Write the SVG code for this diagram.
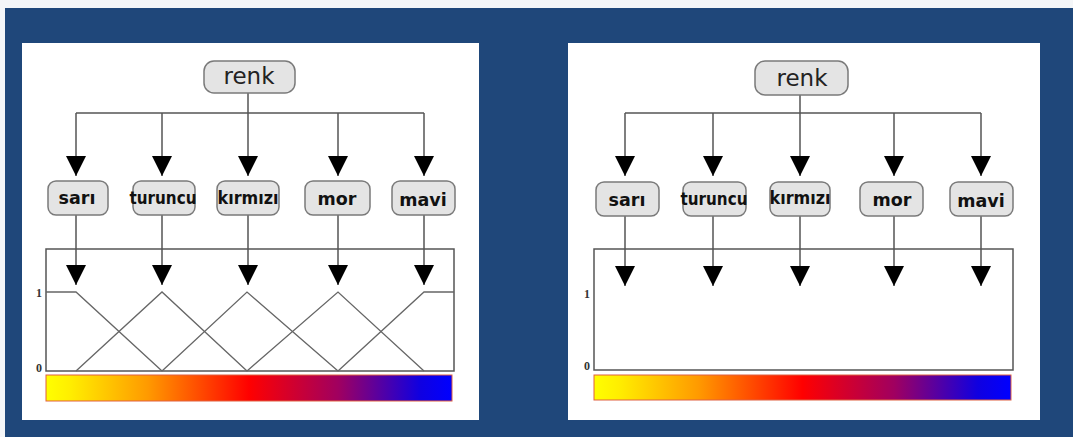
<svg xmlns="http://www.w3.org/2000/svg" width="1073" height="437" viewBox="0 0 1073 437">
  <style>
    .panel { fill: #ffffff; }
    .node rect { fill: #e4e4e4; stroke: #7a7a7a; stroke-width: 1.5; }
    .root text { font-family: "DejaVu Sans", Verdana, sans-serif; font-size: 23px; fill: #222; text-anchor: middle; }
    .leaf text { font-family: "DejaVu Sans", Verdana, sans-serif; font-size: 17.5px; font-weight: bold; fill: #111; text-anchor: middle; }
    .conn line, .conn polyline { stroke: #555; stroke-width: 1.5; fill: none; }
    .arrow line { marker-end: url(#tri); }
    .frame { fill: none; stroke: #555; stroke-width: 1.5; }
    .mf { fill: none; stroke: #666; stroke-width: 1.3; }
    .axis { font-family: "Liberation Serif", "Times New Roman", serif; font-size: 12px; font-weight: bold; fill: #333; }
    .bar { fill: url(#spectrum); stroke: #e06040; stroke-width: 1; }
  </style>
  <defs>
    <marker id="tri" viewBox="0 0 20 20" refX="20" refY="10" markerWidth="20" markerHeight="20" markerUnits="userSpaceOnUse" orient="auto">
      <path d="M0,0 L20,10 L0,20 z" fill="#000"/>
    </marker>
    <linearGradient id="spectrum" x1="0" y1="0" x2="1" y2="0">
      <stop offset="0" stop-color="#ffff00"/>
      <stop offset="0.06" stop-color="#ffee00"/>
      <stop offset="0.25" stop-color="#ff9a00"/>
      <stop offset="0.5" stop-color="#ff0000"/>
      <stop offset="0.72" stop-color="#a00060"/>
      <stop offset="0.92" stop-color="#1000e0"/>
      <stop offset="1" stop-color="#0000ff"/>
    </linearGradient>
  </defs>

  <!-- backdrop -->
  <rect x="0" y="0" width="1073" height="437" fill="#f4f6f8"/>
  <rect x="5" y="8" width="1068" height="429" fill="#1f477a"/>

  <!-- left panel: hierarchy with membership functions -->
  <g id="panel-left">
    <rect class="panel" x="22" y="43" width="457" height="377"/>
    <rect class="frame" x="46" y="249" width="408" height="122"/>
    <g class="mf">
      <polyline points="46,292 76,292 162,371"/>
      <polyline points="76,371 162,292 247,371"/>
      <polyline points="162,371 247,292 338,371"/>
      <polyline points="247,371 338,292 424,371"/>
      <polyline points="338,371 424,292 454,292"/>
    </g>
    <text class="axis" x="36" y="297">1</text>
    <text class="axis" x="36" y="372">0</text>
    <rect class="bar" x="46" y="375" width="406" height="26"/>
  </g>

  <!-- right panel: hierarchy with empty axes -->
  <g id="panel-right">
    <rect class="panel" x="568" y="43" width="472" height="377"/>
    <rect class="frame" x="594" y="249" width="419" height="121"/>
    <text class="axis" x="584" y="298">1</text>
    <text class="axis" x="584" y="370">0</text>
    <rect class="bar" x="594" y="375" width="417" height="25"/>
  </g>

  <!-- connectors -->
  <g id="connectors" class="conn">
    <line x1="248" y1="93" x2="248" y2="113"/>
    <line x1="76" y1="113" x2="424" y2="113"/>
    <g class="arrow">
      <line x1="76" y1="113" x2="76" y2="176"/>
      <line x1="162" y1="113" x2="162" y2="176"/>
      <line x1="248" y1="113" x2="248" y2="176"/>
      <line x1="338" y1="113" x2="338" y2="176"/>
      <line x1="424" y1="113" x2="424" y2="176"/>
      <line x1="76" y1="215" x2="76" y2="285"/>
      <line x1="162" y1="215" x2="162" y2="285"/>
      <line x1="248" y1="215" x2="248" y2="285"/>
      <line x1="338" y1="215" x2="338" y2="285"/>
      <line x1="424" y1="215" x2="424" y2="285"/>
    </g>
    <line x1="800" y1="95" x2="800" y2="113"/>
    <line x1="625" y1="113" x2="981" y2="113"/>
    <g class="arrow">
      <line x1="625" y1="113" x2="625" y2="176"/>
      <line x1="713" y1="113" x2="713" y2="176"/>
      <line x1="800" y1="113" x2="800" y2="176"/>
      <line x1="894" y1="113" x2="894" y2="176"/>
      <line x1="981" y1="113" x2="981" y2="176"/>
      <line x1="625" y1="216" x2="625" y2="286"/>
      <line x1="713" y1="216" x2="713" y2="286"/>
      <line x1="800" y1="216" x2="800" y2="286"/>
      <line x1="894" y1="216" x2="894" y2="286"/>
      <line x1="981" y1="216" x2="981" y2="286"/>
    </g>
  </g>

  <!-- left tree nodes -->
  <g id="renk-left" class="node root">
    <rect x="204" y="61" width="91" height="32" rx="10"/>
    <text x="249" y="84">renk</text>
  </g>
  <g id="sari-left" class="node leaf">
    <rect x="48" y="181" width="60" height="34" rx="8"/>
    <text x="77" y="204">sarı</text>
  </g>
  <g id="turuncu-left" class="node leaf">
    <rect x="133" y="181" width="62" height="34" rx="8"/>
    <text x="163" y="204" textLength="67" lengthAdjust="spacingAndGlyphs">turuncu</text>
  </g>
  <g id="kirmizi-left" class="node leaf">
    <rect x="217" y="181" width="62" height="34" rx="8"/>
    <text x="248" y="204" textLength="61" lengthAdjust="spacingAndGlyphs">kırmızı</text>
  </g>
  <g id="mor-left" class="node leaf">
    <rect x="305" y="181" width="65" height="34" rx="8"/>
    <text x="337" y="205">mor</text>
  </g>
  <g id="mavi-left" class="node leaf">
    <rect x="392" y="181" width="63" height="34" rx="8"/>
    <text x="423" y="206">mavi</text>
  </g>

  <!-- right tree nodes -->
  <g id="renk-right" class="node root">
    <rect x="755" y="61" width="93" height="34" rx="10"/>
    <text x="802" y="86">renk</text>
  </g>
  <g id="sari-right" class="node leaf">
    <rect x="596" y="182" width="63" height="34" rx="8"/>
    <text x="627" y="206">sarı</text>
  </g>
  <g id="turuncu-right" class="node leaf">
    <rect x="683" y="182" width="63" height="34" rx="8"/>
    <text x="714" y="205" textLength="67" lengthAdjust="spacingAndGlyphs">turuncu</text>
  </g>
  <g id="kirmizi-right" class="node leaf">
    <rect x="770" y="182" width="60" height="34" rx="8"/>
    <text x="800" y="204" textLength="61" lengthAdjust="spacingAndGlyphs">kırmızı</text>
  </g>
  <g id="mor-right" class="node leaf">
    <rect x="860" y="182" width="63" height="34" rx="8"/>
    <text x="892" y="206">mor</text>
  </g>
  <g id="mavi-right" class="node leaf">
    <rect x="950" y="182" width="63" height="34" rx="8"/>
    <text x="981" y="207">mavi</text>
  </g>
</svg>
